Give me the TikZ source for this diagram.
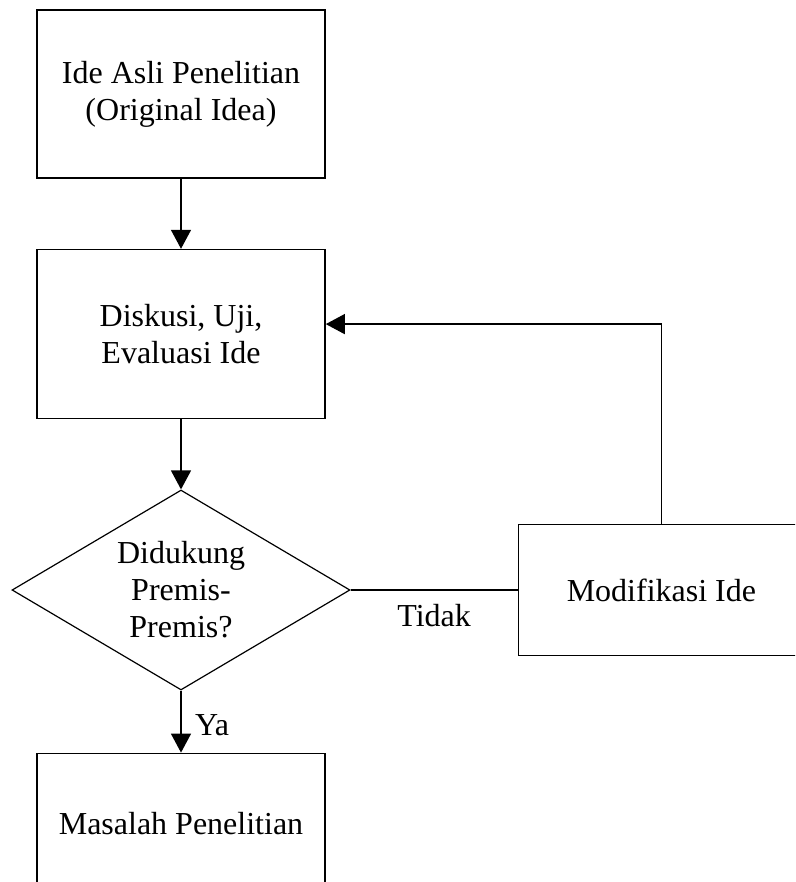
\documentclass[tikz,border=0pt]{standalone}
\usepackage{fontspec}
\setmainfont{Liberation Serif}
\usepackage{tikz}
\usetikzlibrary{positioning, arrows.meta, shapes.geometric}
\tikzstyle{block} = [rectangle, draw, line width=1.6pt, text centered, align=center, minimum width=288pt, minimum height=168pt, inner sep=0pt]
\tikzstyle{decision} = [diamond, draw, line width=1.2pt, align=center, aspect=1.69, minimum width=338pt, minimum height=200pt, inner sep=0pt]
\tikzstyle{line} = [draw, line width=1.4pt, -{Triangle[length=19pt, width=20pt]}]
\tikzstyle{link} = [draw, line width=1.4pt]

\begin{document}
\begin{tikzpicture}[x=1pt, y=1pt, font=\fontsize{32}{37}\selectfont]
        \useasboundingbox (0,0) rectangle (795,-882);
        \clip (0,0) rectangle (795,-882);
        % Nodes
        \node (ide) [block] at (181,-94) {Ide Asli Penelitian\\(Original Idea)};
        \node (diskusi) [block, below=70pt of ide, minimum height=169pt] {Diskusi, Uji,\\Evaluasi Ide};
        \node (premis) [decision, below=70pt of diskusi] {Didukung\\Premis-\\Premis?};
        \node (modif) [block, right=167pt of premis, minimum width=286pt, minimum height=131pt] {Modifikasi Ide};
        \node (masalah) [block, below=62pt of premis, minimum height=140pt] {Masalah Penelitian};
        % Edges
        \path [line] (ide) -- (diskusi);
        \path [line] (diskusi) -- (premis);
        \path [link] (premis) -- node[below=10pt] {Tidak} (modif);
        \path [line] (modif.north) |- ([yshift=10pt]diskusi.east);
        \path [line] (premis) -- node[right=10pt, pos=0.55] {Ya} (masalah);
\end{tikzpicture}
\end{document}
